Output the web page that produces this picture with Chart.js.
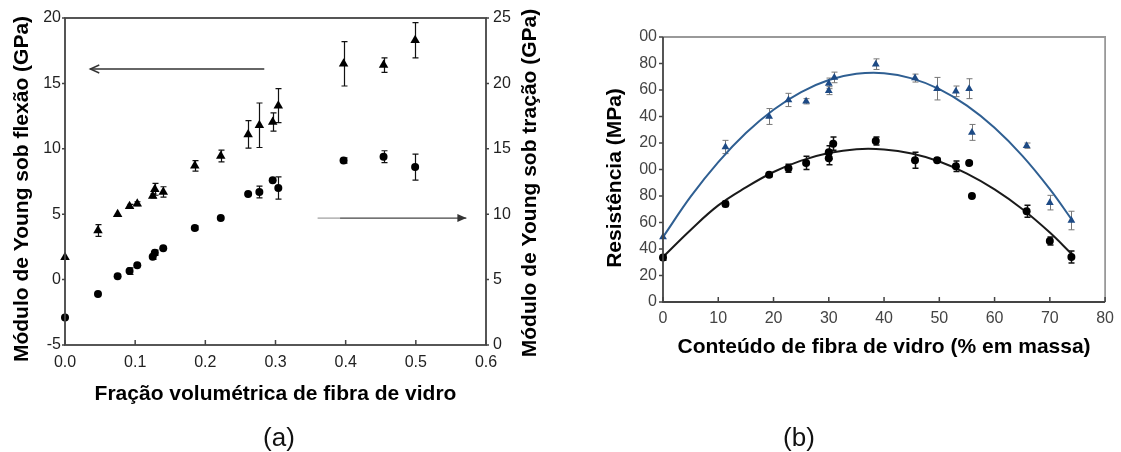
<!DOCTYPE html>
<html lang="pt">
<head>
<meta charset="utf-8">
<title>Módulo de Young e resistência vs. fibra de vidro</title>
<script src="https://cdn.jsdelivr.net/npm/chart.js@4.4.1/dist/chart.umd.min.js"></script>
<style>
  html, body { margin: 0; padding: 0; background: #fff; }
  body { width: 1121px; height: 452px; position: relative; overflow: hidden;
         font-family: "Liberation Sans", Arial, Helvetica, sans-serif; }
  canvas { position: absolute; top: 0; }
  #chartA { left: 0; }
  #chartB { left: 560px; filter: blur(0.5px); }
  .tag { position: absolute; top: 422px; font-size: 26px; color: #111; transform: translateX(-50%); }
</style>
</head>
<body>
<canvas id="chartA" width="600" height="452"></canvas>
<canvas id="chartB" width="561" height="452"></canvas>
<div class="tag" style="left: 279px;">(a)</div>
<div class="tag" style="left: 799px;">(b)</div>

<script>
Chart.defaults.font.family = '"Liberation Sans", Arial, Helvetica, sans-serif';

// ---- (a) Young's modulus vs. glass fibre volume fraction ----
const volFrac     = [0, 0.047, 0.075, 0.092, 0.103, 0.125, 0.128, 0.14, 0.185, 0.222, 0.261, 0.277, 0.296, 0.304, 0.397, 0.454, 0.499];
const flexModulus = [1.7, 3.75, 5.0, 5.6, 5.8, 6.4, 6.9, 6.7, 8.7, 9.45, 11.1, 11.8, 12.05, 13.3, 16.5, 16.4, 18.3];
const flexErr     = [0, 0.45, 0, 0.15, 0.15, 0.15, 0.45, 0.4, 0.4, 0.45, 1.05, 1.7, 0.7, 1.3, 1.7, 0.55, 1.35];
const tensModulus = [2.1, 3.9, 5.25, 5.65, 6.1, 6.75, 7.05, 7.4, 8.95, 9.7, 11.55, 11.7, 12.6, 12.0, 14.1, 14.4, 13.6];
const tensErr     = [0, 0, 0, 0.25, 0, 0.2, 0.2, 0, 0.15, 0, 0, 0.45, 0, 0.85, 0.2, 0.45, 1.0];

// arrows telling which axis belongs to which series
const flexArrowX = [0.284, 0.036];   // left axis, y = flexArrowY
const flexArrowY = 16.1;
const tensArrowX = [0.36, 0.392, 0.572]; // right axis, first piece is lighter
const tensArrowY = 9.7;

// ---- (b) strength vs. glass fibre mass content ----
const blueX   = [0, 11.3, 19.2, 22.7, 25.9, 30.0, 30.0, 31.0, 38.5, 45.6, 49.6, 53.0, 55.4, 55.9, 65.8, 70.0, 73.9];
const blueY   = [49, 117, 140, 152.5, 151.5, 159.5, 165, 169.5, 179.5, 169, 161, 159, 161, 128, 118, 75, 61.5];
const blueErr = [0, 5, 6, 5, 2, 3, 4, 4, 4, 3, 8.5, 4, 7.5, 6, 2, 5.5, 7];
const blackX   = [0, 11.3, 19.2, 22.7, 25.9, 30.0, 30.0, 30.8, 38.5, 45.6, 49.6, 53.0, 55.4, 55.9, 65.8, 70.0, 73.9];
const blackY   = [33.5, 74, 96, 101, 105, 108.5, 113, 119.5, 121.5, 107, 107, 102.5, 105, 80, 68.5, 46, 34];
const blackErr = [2, 2, 1.5, 3, 5, 5, 5, 5, 3, 6, 1.5, 4, 1, 0, 4.5, 3, 4.5];

// fitted trend lines
const fitX     = [0, 5, 10, 15, 20, 25, 30, 35, 40, 45, 50, 55, 60, 65, 70, 74];
const blueFit  = [49, 79.5, 105.6, 127.5, 145.1, 158.4, 167.5, 172.2, 172.7, 168.8, 160.7, 148.2, 131.5, 110.5, 85.2, 62];
const blackFit = [34, 54.4, 72.9, 86.5, 98.1, 106.7, 112.4, 115.3, 115.1, 112, 106, 96.9, 85, 70.2, 52.4, 36];

const resTickLabels = ['0', '20', '40', '60', '80', '00', '20', '40', '60', '80', '00'];

const pts = (xs, ys) => xs.map((x, i) => ({ x: x, y: ys[i] }));

function drawErrorBars(chart, dsIndex, errors, color, width, cap) {
  const ctx = chart.ctx;
  const meta = chart.getDatasetMeta(dsIndex);
  const xs = chart.scales[meta.xAxisID], ys = chart.scales[meta.yAxisID];
  ctx.save();
  ctx.strokeStyle = color;
  ctx.lineWidth = width;
  chart.data.datasets[dsIndex].data.forEach((p, i) => {
    const e = errors[i];
    if (!e) return;
    const px = Math.round(xs.getPixelForValue(p.x)) + 0.5;
    const top = ys.getPixelForValue(p.y + e), bot = ys.getPixelForValue(p.y - e);
    ctx.beginPath();
    ctx.moveTo(px, top); ctx.lineTo(px, bot);
    ctx.moveTo(px - cap, top); ctx.lineTo(px + cap, top);
    ctx.moveTo(px - cap, bot); ctx.lineTo(px + cap, bot);
    ctx.stroke();
  });
  ctx.restore();
}

// short tick marks: inward on the bottom axis, outward on the side axes
function drawTicks(chart, id, len, color) {
  const s = chart.scales[id], ctx = chart.ctx, a = chart.chartArea;
  ctx.save();
  ctx.strokeStyle = color;
  ctx.lineWidth = 1.5;
  ctx.beginPath();
  s.ticks.forEach((t, i) => {
    const p = s.getPixelForTick(i);
    if (s.isHorizontal()) { ctx.moveTo(p, a.bottom); ctx.lineTo(p, a.bottom - len); }
    else if (s.position === 'left') { ctx.moveTo(a.left, p); ctx.lineTo(a.left - len, p); }
    else { ctx.moveTo(a.right, p); ctx.lineTo(a.right + len, p); }
  });
  ctx.stroke();
  ctx.restore();
}

function vText(ctx, text, x, y) {
  ctx.save();
  ctx.translate(x, y);
  ctx.rotate(-Math.PI / 2);
  ctx.textAlign = 'center';
  ctx.textBaseline = 'middle';
  ctx.fillText(text, 0, 0);
  ctx.restore();
}

function arrowHead(ctx, x, y, dir, filled) {
  ctx.beginPath();
  ctx.moveTo(x - dir * 9, y - 4);
  ctx.lineTo(x, y);
  ctx.lineTo(x - dir * 9, y + 4);
  if (filled) { ctx.closePath(); ctx.fill(); } else { ctx.stroke(); }
}

const titleFont = 'bold 21px "Liberation Sans", Arial, sans-serif';

const panelA = {
  id: 'panelA',
  beforeDatasetsDraw(chart) {
    drawErrorBars(chart, 0, flexErr, '#111', 1.2, 3);
    drawErrorBars(chart, 1, tensErr, '#111', 1.2, 3);
  },
  afterDraw(chart) {
    const ctx = chart.ctx, a = chart.chartArea;
    const x = chart.scales.x, y = chart.scales.y, y2 = chart.scales.y2;
    ctx.save();
    ctx.strokeStyle = '#444';
    ctx.lineWidth = 1.8;
    ctx.strokeRect(a.left, a.top, a.right - a.left, a.bottom - a.top);
    ctx.restore();
    drawTicks(chart, 'x', 5, '#444');
    drawTicks(chart, 'y', 3, '#444');
    drawTicks(chart, 'y2', 3, '#444');

    // arrows
    ctx.save();
    ctx.strokeStyle = '#333';
    ctx.fillStyle = '#333';
    ctx.lineWidth = 1.4;
    const ly = y.getPixelForValue(flexArrowY);
    ctx.beginPath();
    ctx.moveTo(x.getPixelForValue(flexArrowX[0]), ly);
    ctx.lineTo(x.getPixelForValue(flexArrowX[1]), ly);
    ctx.stroke();
    arrowHead(ctx, x.getPixelForValue(flexArrowX[1]), ly, -1, false);
    const ry = y2.getPixelForValue(tensArrowY);
    ctx.strokeStyle = '#aaa';
    ctx.beginPath();
    ctx.moveTo(x.getPixelForValue(tensArrowX[0]), ry);
    ctx.lineTo(x.getPixelForValue(tensArrowX[1]), ry);
    ctx.stroke();
    ctx.strokeStyle = '#444';
    ctx.beginPath();
    ctx.moveTo(x.getPixelForValue(tensArrowX[1]), ry);
    ctx.lineTo(x.getPixelForValue(tensArrowX[2]), ry);
    ctx.stroke();
    arrowHead(ctx, x.getPixelForValue(tensArrowX[2]), ry, 1, true);
    ctx.restore();

    // axis titles
    ctx.save();
    ctx.fillStyle = '#000';
    ctx.font = titleFont;
    vText(ctx, 'Módulo de Young sob flexão (GPa)', 22, 189);
    vText(ctx, 'Módulo de Young sob tração (GPa)', 530, 183);
    ctx.textAlign = 'center';
    ctx.textBaseline = 'middle';
    ctx.fillText('Fração volumétrica de fibra de vidro', (a.left + a.right) / 2, 394);
    ctx.restore();
  }
};

const panelB = {
  id: 'panelB',
  beforeDatasetsDraw(chart) {
    drawErrorBars(chart, 2, blueErr, '#777', 1, 3);
    drawErrorBars(chart, 3, blackErr, '#111', 1.5, 3);
  },
  afterDraw(chart) {
    const ctx = chart.ctx, a = chart.chartArea;
    ctx.save();
    ctx.lineWidth = 1.8;
    ctx.strokeStyle = '#999';
    ctx.beginPath();
    ctx.moveTo(a.left, a.top); ctx.lineTo(a.right, a.top); ctx.lineTo(a.right, a.bottom);
    ctx.stroke();
    ctx.strokeStyle = '#444';
    ctx.beginPath();
    ctx.moveTo(a.left, a.top); ctx.lineTo(a.left, a.bottom); ctx.lineTo(a.right, a.bottom);
    ctx.stroke();
    ctx.restore();
    drawTicks(chart, 'x', 5, '#444');
    drawTicks(chart, 'y', 4, '#444');

    ctx.save();
    ctx.fillStyle = '#000';
    ctx.font = titleFont;
    vText(ctx, 'Resistência (MPa)', 55, 178);
    ctx.textAlign = 'center';
    ctx.textBaseline = 'middle';
    ctx.fillText('Conteúdo de fibra de vidro (% em massa)', (a.left + a.right) / 2, 347);
    ctx.restore();
  }
};

const tickFont = { size: 16 };
const noGrid = { display: false, drawTicks: false };

new Chart(document.getElementById('chartA'), {
  type: 'scatter',
  data: {
    datasets: [
      { label: 'flexão', data: pts(volFrac, flexModulus), yAxisID: 'y', clip: false,
        pointStyle: 'triangle', pointRadius: 5.5, backgroundColor: '#000', borderColor: '#000', borderWidth: 0 },
      { label: 'tração', data: pts(volFrac, tensModulus), yAxisID: 'y2', clip: false,
        pointStyle: 'circle', pointRadius: 4, backgroundColor: '#000', borderColor: '#000', borderWidth: 0 }
    ]
  },
  options: {
    responsive: false,
    animation: false,
    layout: { padding: { top: 18, left: 0, right: 0, bottom: 0 } },
    plugins: { legend: { display: false }, tooltip: { enabled: false } },
    scales: {
      x: {
        type: 'linear', min: 0, max: 0.6,
        grid: noGrid, border: { display: false },
        ticks: { stepSize: 0.1, padding: 8, font: tickFont, color: '#222', maxRotation: 0,
                 callback: v => v.toFixed(1) },
        afterFit: s => { s.height = 107; }
      },
      y: {
        position: 'left', min: -5, max: 20,
        grid: noGrid, border: { display: false },
        ticks: { stepSize: 5, padding: 4, font: tickFont, color: '#222' },
        afterFit: s => { s.width = 65; }
      },
      y2: {
        position: 'right', min: 0, max: 25,
        grid: noGrid, border: { display: false },
        ticks: { stepSize: 5, padding: 7, font: tickFont, color: '#222' },
        afterFit: s => { s.width = 114; }
      }
    }
  },
  plugins: [panelA]
});

new Chart(document.getElementById('chartB'), {
  type: 'scatter',
  data: {
    datasets: [
      { label: 'ajuste azul', data: pts(fitX, blueFit), showLine: true, tension: 0.4,
        borderColor: '#2f5f92', borderWidth: 2, pointRadius: 0, order: 3 },
      { label: 'ajuste preto', data: pts(fitX, blackFit), showLine: true, tension: 0.4,
        borderColor: '#1a1a1a', borderWidth: 2, pointRadius: 0, order: 3 },
      { label: 'triângulos', data: pts(blueX, blueY), pointStyle: 'triangle', pointRadius: 4.5, clip: false,
        backgroundColor: '#1d4a85', borderColor: '#1d4a85', borderWidth: 0, order: 1 },
      { label: 'círculos', data: pts(blackX, blackY), pointStyle: 'circle', pointRadius: 4, clip: false,
        backgroundColor: '#000', borderColor: '#000', borderWidth: 0, order: 1 }
    ]
  },
  options: {
    responsive: false,
    animation: false,
    layout: { padding: { top: 37, left: 0, right: 13, bottom: 0 } },
    plugins: { legend: { display: false }, tooltip: { enabled: false } },
    scales: {
      x: {
        type: 'linear', min: 0, max: 80,
        grid: noGrid, border: { display: false },
        ticks: { stepSize: 10, padding: 7, font: tickFont, color: '#444', maxRotation: 0 },
        afterFit: s => { s.height = 150; }
      },
      y: {
        min: 0, max: 200,
        grid: noGrid, border: { display: false },
        ticks: { stepSize: 20, padding: 6, font: tickFont, color: '#444',
                 callback: (v, i) => resTickLabels[i] },
        afterFit: s => { s.width = 103; }
      }
    }
  },
  plugins: [panelB]
});
</script>
</body>
</html>
